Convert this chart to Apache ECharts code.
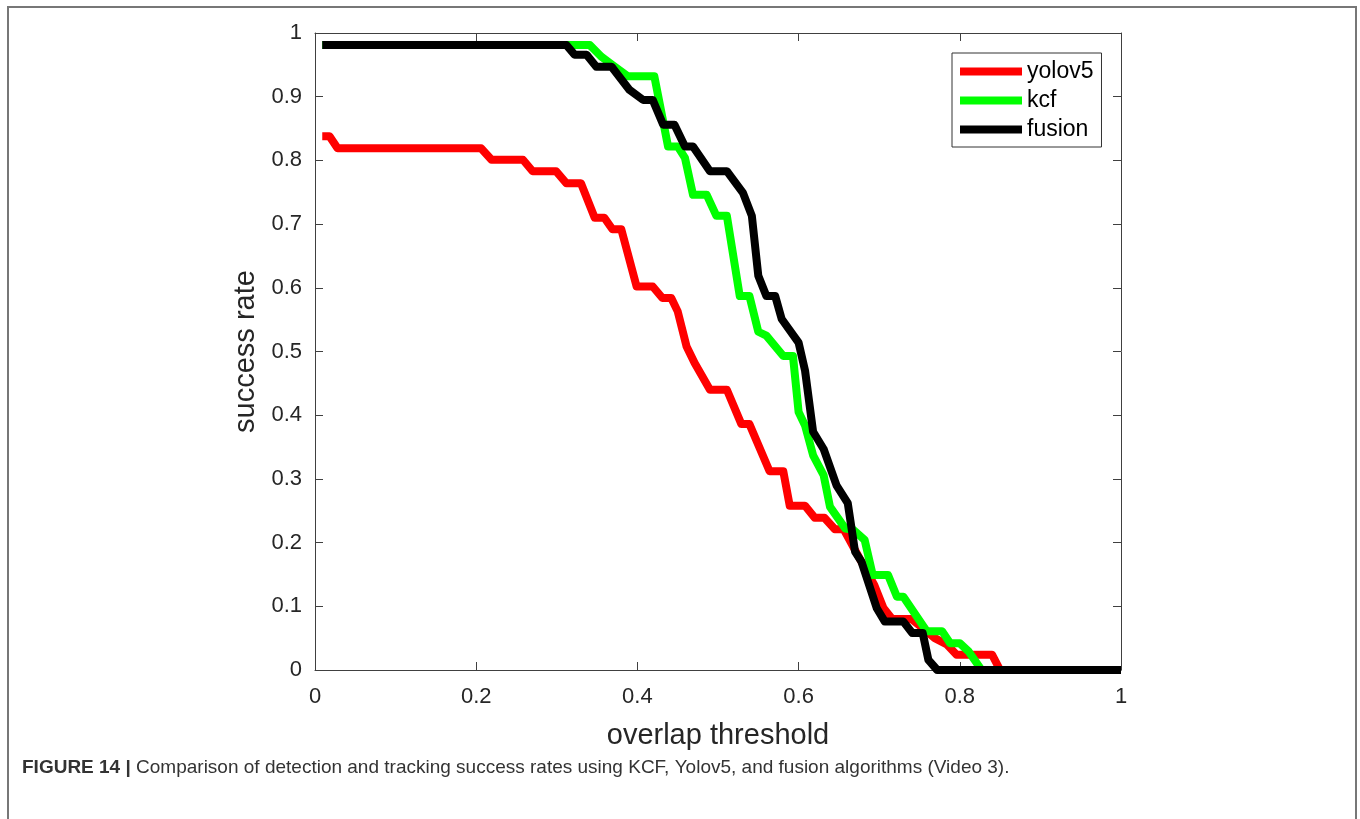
<!DOCTYPE html>
<html>
<head>
<meta charset="utf-8">
<script src="https://cdn.jsdelivr.net/npm/echarts@6/dist/echarts.min.js"></script>
<style>
    html, body { margin: 0; padding: 0; background: #fff; }
    #fig { width: 1360px; height: 819px; }
</style>
</head>
<body>
<div id="fig"></div>
<script>
// values (overlap threshold -> success rate)
var seriesNames = ['yolov5', 'kcf', 'fusion'];

var yoloX = [0.009, 0.018, 0.028, 0.206, 0.219, 0.258, 0.270, 0.299, 0.312, 0.330, 0.347, 0.359, 0.369, 0.380, 0.399, 0.419, 0.431, 0.442, 0.450, 0.461, 0.471, 0.490, 0.511, 0.529, 0.539, 0.564, 0.581, 0.589, 0.608, 0.620, 0.632, 0.645, 0.656, 0.668, 0.694, 0.705, 0.716, 0.740, 0.753, 0.769, 0.784, 0.796, 0.840, 0.850, 1.0];
var yoloY = [0.838, 0.838, 0.819, 0.819, 0.801, 0.801, 0.783, 0.783, 0.764, 0.764, 0.710, 0.710, 0.692, 0.692, 0.602, 0.602, 0.584, 0.584, 0.563, 0.508, 0.482, 0.440, 0.440, 0.386, 0.386, 0.312, 0.312, 0.258, 0.258, 0.239, 0.239, 0.221, 0.221, 0.193, 0.133, 0.098, 0.080, 0.080, 0.067, 0.050, 0.040, 0.024, 0.024, 0, 0];

var kcfX = [0.009, 0.341, 0.355, 0.369, 0.388, 0.421, 0.438, 0.450, 0.459, 0.469, 0.486, 0.498, 0.511, 0.527, 0.539, 0.550, 0.560, 0.581, 0.593, 0.600, 0.608, 0.618, 0.631, 0.639, 0.658, 0.668, 0.682, 0.692, 0.711, 0.722, 0.730, 0.759, 0.778, 0.788, 0.800, 0.811, 0.827, 1.0];
var kcfY = [0.981, 0.981, 0.963, 0.950, 0.932, 0.932, 0.822, 0.822, 0.804, 0.746, 0.746, 0.713, 0.713, 0.587, 0.587, 0.531, 0.525, 0.493, 0.493, 0.405, 0.384, 0.337, 0.306, 0.256, 0.222, 0.220, 0.204, 0.149, 0.149, 0.115, 0.115, 0.061, 0.061, 0.042, 0.042, 0.029, 0, 0];

var fusionX = [0.009, 0.312, 0.322, 0.337, 0.349, 0.368, 0.390, 0.407, 0.419, 0.432, 0.446, 0.459, 0.469, 0.490, 0.511, 0.531, 0.542, 0.550, 0.560, 0.571, 0.579, 0.600, 0.608, 0.618, 0.631, 0.647, 0.661, 0.670, 0.678, 0.697, 0.707, 0.730, 0.741, 0.754, 0.761, 0.772, 1.0];
var fusionY = [0.981, 0.981, 0.966, 0.966, 0.947, 0.947, 0.911, 0.895, 0.895, 0.856, 0.856, 0.822, 0.822, 0.783, 0.783, 0.749, 0.713, 0.619, 0.587, 0.587, 0.551, 0.514, 0.470, 0.374, 0.347, 0.290, 0.262, 0.186, 0.170, 0.097, 0.076, 0.076, 0.058, 0.058, 0.016, 0, 0];

var lineColors = ['#ff0000', '#00ff00', '#000000'];
var captionBold = 'FIGURE 14 |';
var captionText = 'Comparison of detection and tracking success rates using KCF, Yolov5, and fusion algorithms (Video 3).';

function pairs(xs, ys) {
    var out = [];
    for (var i = 0; i < xs.length; i++) {
        out.push([xs[i], ys[i]]);
    }
    return out;
}

var myChart = echarts.init(document.getElementById('fig'));
var axisCol = '#404040';
var txtCol = '#262626';
var font = 'Liberation Sans, Arial, sans-serif';

function makeAxis(pos, showLabels, extra) {
    var ax = {
        type: 'value',
        position: pos,
        min: 0,
        max: 1,
        splitLine: { show: false },
        axisLine: { show: true, onZero: false, lineStyle: { color: axisCol, width: 1 } },
        axisTick: { show: true, inside: true, length: 8, lineStyle: { color: axisCol } },
        axisLabel: { show: showLabels, color: txtCol, fontSize: 22, fontFamily: font },
        nameTextStyle: { color: txtCol, fontSize: 29, fontFamily: font }
    };
    for (var k in extra) ax[k] = extra[k];
    return ax;
}

var option = {
    animation: false,
    backgroundColor: '#fff',
    title: {
        left: 17,
        top: 753,
        text: '{b|' + captionBold + '} ' + captionText,
        textStyle: {
            fontSize: 19,
            fontWeight: 'normal',
            color: '#333',
            fontFamily: font,
            rich: {
                b: { fontSize: 19, fontWeight: 'bold', color: '#333', fontFamily: font }
            }
        }
    },
    graphic: [{
        type: 'polyline',
        shape: { points: [[8, 830], [8, 7], [1356, 7], [1356, 830]] },
        style: { stroke: '#777', lineWidth: 2, fill: null },
        silent: true
    }],
    grid: { left: 315, top: 33, right: 239, bottom: 149, containLabel: false },
    legend: {
        data: seriesNames,
        orient: 'vertical',
        left: 952,
        top: 53,
        padding: [7, 8, 6, 8],
        itemGap: 6,
        itemWidth: 62,
        itemHeight: 8,
        icon: 'rect',
        borderColor: '#333',
        borderWidth: 1,
        backgroundColor: '#fff',
        textStyle: { fontSize: 23, color: '#000', fontFamily: font, lineHeight: 23 }
    },
    xAxis: [
        makeAxis('bottom', true, {
            interval: 0.2,
            name: 'overlap threshold',
            nameLocation: 'middle',
            nameGap: 51,
            axisLabel: { show: true, color: txtCol, fontSize: 22, fontFamily: font, margin: 16 }
        }),
        makeAxis('top', false, { interval: 0.2 })
    ],
    yAxis: [
        makeAxis('left', true, {
            interval: 0.1,
            name: 'success rate',
            nameLocation: 'middle',
            nameGap: 53,
            axisLabel: { show: true, color: txtCol, fontSize: 22, fontFamily: font, margin: 13 }
        }),
        makeAxis('right', false, { interval: 0.1 })
    ],
    series: []
};

var xsList = [yoloX, kcfX, fusionX];
var ysList = [yoloY, kcfY, fusionY];
for (var s = 0; s < seriesNames.length; s++) {
    option.series.push({
        name: seriesNames[s],
        type: 'line',
        xAxisIndex: 0,
        yAxisIndex: 0,
        symbol: 'none',
        clip: false,
        color: lineColors[s],
        lineStyle: { width: 8, color: lineColors[s], cap: 'butt', join: 'round' },
        data: pairs(xsList[s], ysList[s])
    });
}
myChart.setOption(option);
</script>
</body>
</html>
